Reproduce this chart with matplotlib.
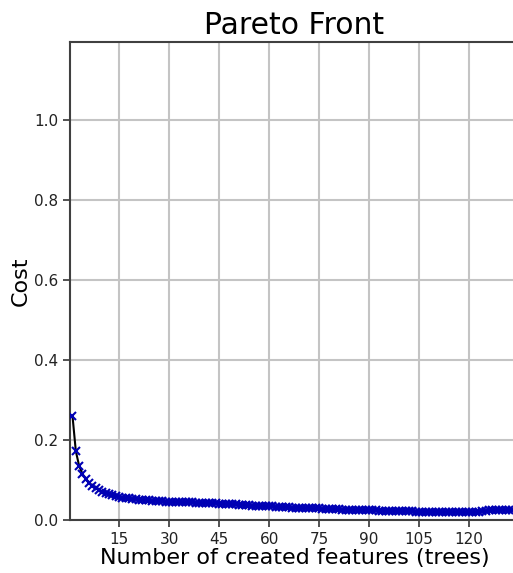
import matplotlib
matplotlib.use("Agg")
import matplotlib.pyplot as plt

# Number of created features (trees) and the cost of each Pareto-optimal solution
n_features = list(range(1, 134))
cost = [
    0.260, 0.172, 0.135, 0.115, 0.102, 0.093, 0.086, 0.080, 0.075, 0.071, 0.068, 0.065, 0.062, 0.060, 0.058,
    0.056, 0.055, 0.054, 0.053, 0.052, 0.051, 0.050, 0.050, 0.049, 0.048, 0.048, 0.047, 0.047, 0.046, 0.046,
    0.045, 0.045, 0.045, 0.044, 0.044, 0.044, 0.044, 0.043, 0.043, 0.043, 0.043, 0.042, 0.042, 0.042, 0.041,
    0.041, 0.040, 0.040, 0.039, 0.039, 0.038, 0.038, 0.037, 0.037, 0.036, 0.036, 0.035, 0.035, 0.035, 0.034,
    0.034, 0.033, 0.033, 0.033, 0.032, 0.032, 0.031, 0.031, 0.031, 0.030, 0.030, 0.030, 0.029, 0.029, 0.029,
    0.028, 0.028, 0.028, 0.027, 0.027, 0.027, 0.026, 0.026, 0.026, 0.025, 0.025, 0.025, 0.025, 0.024, 0.024,
    0.024, 0.024, 0.023, 0.023, 0.023, 0.023, 0.023, 0.022, 0.022, 0.022, 0.022, 0.022, 0.022, 0.021, 0.021,
    0.021, 0.021, 0.021, 0.021, 0.021, 0.021, 0.020, 0.020, 0.020, 0.020, 0.020, 0.020, 0.020, 0.019, 0.019,
    0.019, 0.020, 0.021, 0.022, 0.023, 0.024, 0.024, 0.024, 0.025, 0.025, 0.025, 0.025, 0.025,
]
x_ticks = [15, 30, 45, 60, 75, 90, 105, 120]
y_ticks = [0.0, 0.2, 0.4, 0.6, 0.8, 1.0]

W, H = 513, 573
fig = plt.figure(figsize=(W / 100, H / 100), dpi=100)
ax = fig.add_axes([70 / W, 53 / H, 449 / W, 478 / H])

ax.plot(n_features, cost, color="black", lw=1.5, zorder=3)
ax.plot(n_features, cost, "x", color="#0000b4", ms=6, mew=1.5, zorder=4)

ax.set_xlim(0.25, 135)
ax.set_ylim(0, 1.195)
ax.set_xticks(x_ticks)
ax.set_yticks(y_ticks)
ax.set_yticklabels([f"{v:.1f}" for v in y_ticks])
ax.grid(True, color="#c4c4c4", lw=1.5)
ax.set_axisbelow(True)
ax.tick_params(labelsize=11, length=5, width=1.2, color="#333333", labelcolor="#222222")
for s in ax.spines.values():
    s.set_linewidth(1.5)
    s.set_color("#404040")

ax.set_title("Pareto Front", fontsize=21.5, pad=6)
ax.set_xlabel("Number of created features (trees)", fontsize=16, labelpad=1)
ax.set_ylabel("Cost", fontsize=16, labelpad=2)

fig.savefig("out.png", dpi=100)
